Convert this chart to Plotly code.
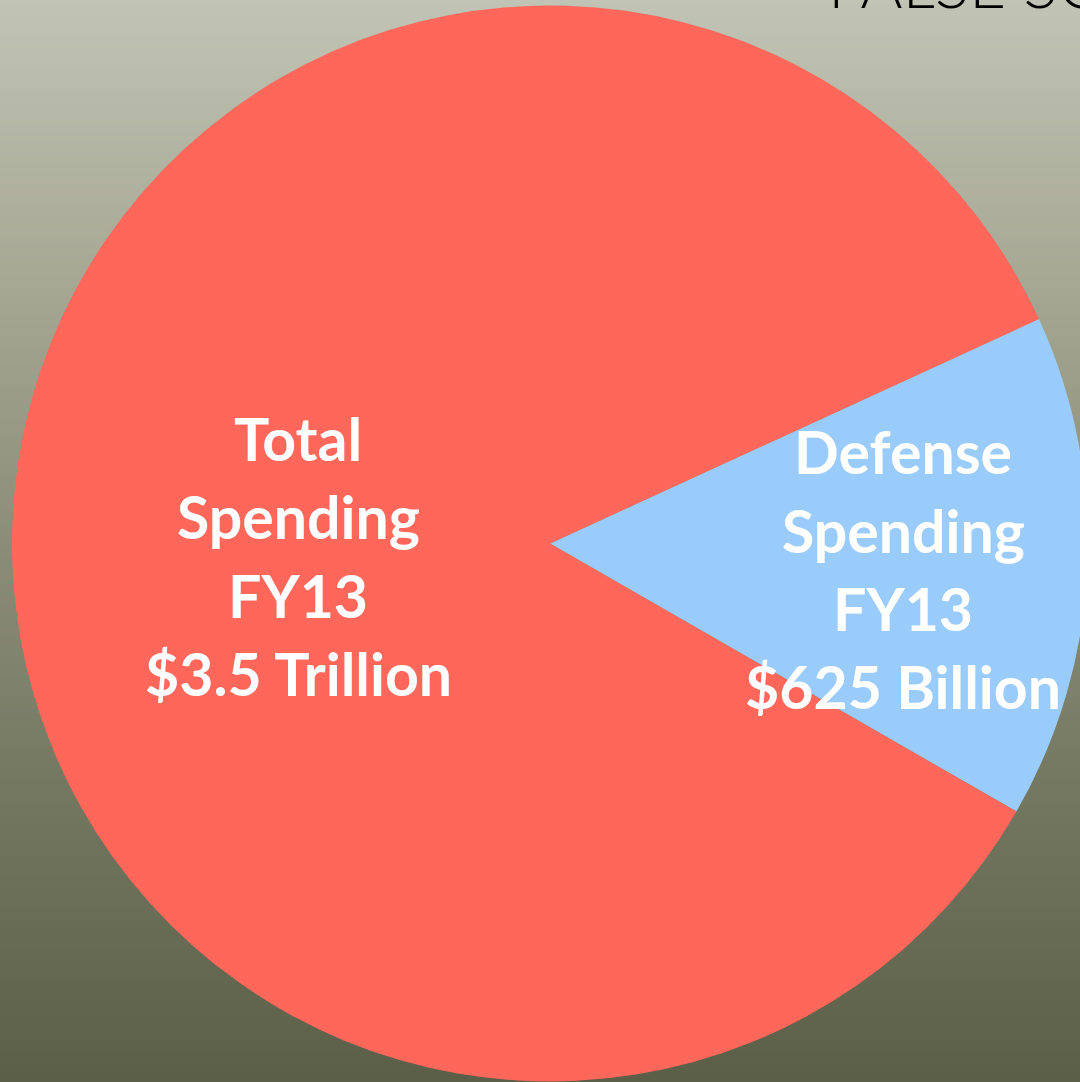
import numpy as np
import plotly.graph_objects as go

# Spending figures, billions of dollars
labels = ["Defense Spending", "Total Spending"]
fiscal_year = "FY13"
values = [625, 3500]
slice_colors = ["#99CCFA", "#FF675B"]

# Label block centres (pixels from the top-left corner)
label_centres = [(903, 452), (298, 439)]
LINE_GAP = 78

W, H = 1090, 1082
BG_STOPS = [
    [0.00, "#5b5f48"],
    [0.25, "#72765e"],
    [0.50, "#8b8d79"],
    [0.75, "#a7a995"],
    [1.00, "#c1c3b4"],
]


def money(billions):
    if billions >= 1000:
        return f"${billions / 1000:g} Trillion"
    return f"${billions:g} Billion"


fig = go.Figure()

# vertical gradient backdrop
rows = 200
fig.add_trace(go.Heatmap(
    z=np.arange(rows).reshape(-1, 1),
    x=[0, 1], y=np.arange(rows),
    colorscale=BG_STOPS, showscale=False, hoverinfo="skip",
))

# pie: square box of 1076 px centred at (550, 543.5)
cx, cy, r = 550, 543.5, 538
fig.add_trace(go.Pie(
    labels=labels, values=values,
    marker=dict(colors=slice_colors, line=dict(width=0)),
    sort=False, direction="clockwise",
    rotation=90 - 24.66,
    textinfo="none", hoverinfo="label+value", showlegend=False,
    domain=dict(x=[(cx - r) / W, (cx + r) / W],
                y=[(H - cy - r) / H, (H - cy + r) / H]),
))

annotations = []
for lab, val, (px, py) in zip(labels, values, label_centres):
    lines = lab.split(" ") + [fiscal_year, money(val)]
    for i, line in enumerate(lines):
        annotations.append(dict(
            text=f"<b>{line}</b>", xref="paper", yref="paper",
            x=px / W, y=1 - (py + i * LINE_GAP) / H,
            xanchor="center", yanchor="middle", showarrow=False,
            font=dict(family="Lato", size=59, color="white"),
        ))

annotations.append(dict(
    text="FALSE SCALE", xref="paper", yref="paper",
    x=826 / W, y=1 - 24 / H, xanchor="left", yanchor="bottom",
    showarrow=False,
    font=dict(family="Lato", size=64, color="black", weight=300),
))

fig.update_layout(
    width=W, height=H, autosize=False,
    margin=dict(l=0, r=0, t=0, b=0),
    paper_bgcolor="#8b8d79", plot_bgcolor="#8b8d79",
    xaxis=dict(visible=False, range=[0, 1], domain=[0, 1], fixedrange=True),
    yaxis=dict(visible=False, range=[-0.5, rows - 0.5], domain=[0, 1], fixedrange=True),
    annotations=annotations,
)

fig.write_html(
    "out.html",
    config={"displayModeBar": False},
    post_script="document.documentElement.style.overflow='hidden';"
                "document.body.style.overflow='hidden';"
                "document.body.style.margin='0';",
)
